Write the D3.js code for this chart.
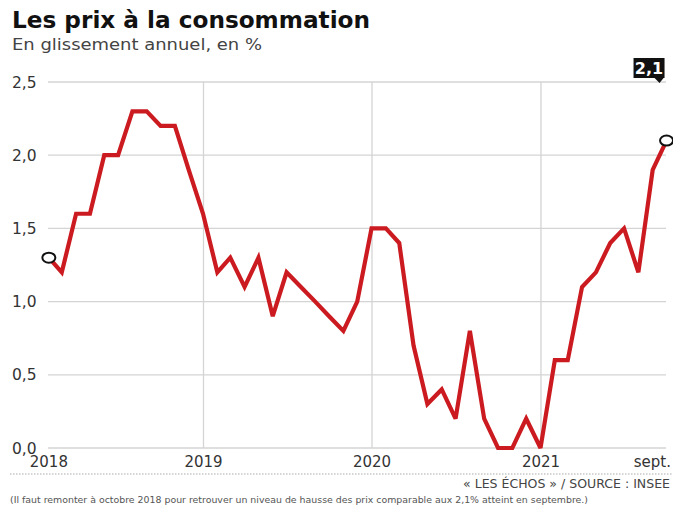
<!DOCTYPE html>
<html lang="fr">
<head>
<meta charset="utf-8">
<script src="https://cdn.jsdelivr.net/npm/d3@7"></script>
<style>
  html, body { margin: 0; padding: 0; background: #fff; }
  svg { display: block; font-family: "DejaVu Sans", "Liberation Sans", sans-serif; }
</style>
</head>
<body>
<svg id="chart" width="673" height="507"></svg>
<script>
// Indice des prix à la consommation, glissement annuel (%), janv. 2018 – sept. 2021
const months2018 = [1.3, 1.2, 1.6, 1.6, 2.0, 2.0, 2.3, 2.3, 2.2, 2.2, 1.9, 1.6];
const months2019 = [1.2, 1.3, 1.1, 1.3, 0.9, 1.2, 1.1, 1.0, 0.9, 0.8, 1.0, 1.5];
const months2020 = [1.5, 1.4, 0.7, 0.3, 0.4, 0.2, 0.8, 0.2, 0.0, 0.0, 0.2, 0.0];
const months2021 = [0.6, 0.6, 1.1, 1.2, 1.4, 1.5, 1.2, 1.9, 2.1];

const yTicks = [0, 0.5, 1.0, 1.5, 2.0, 2.5];
const yearTicks = [2019, 2020, 2021];
const xLabels = ["2018", "2019", "2020", "2021", "sept."];
const lastLabel = "2,1";

const title = "Les prix à la consommation";
const subtitle = "En glissement annuel, en %";
const source = "« LES ÉCHOS » / SOURCE : INSEE";
const footnote = "(Il faut remonter à octobre 2018 pour retrouver un niveau de hausse des prix comparable aux 2,1% atteint en septembre.)";

// each value is dated at the end of its month
const series = [months2018, months2019, months2020, months2021]
  .flatMap((vals, yi) => vals.map((v, m) => ({ date: new Date(2018 + yi, m + 1, 0), value: v })));

const svg = d3.select("#chart");
const fmt = v => d3.format(".1f")(v).replace(".", ",");

const x = d3.scaleTime()
  .domain([new Date(2018, 0, 1), new Date(2021, 9, 1)])
  .range([35, 667]);
const y = d3.scaleLinear().domain([0, 2.5]).range([448, 82]);

const gridLeft = 48, gridRight = 666;
const grid = "#d4d4d4";

// horizontal grid
svg.append("g").selectAll("line").data(yTicks).join("line")
  .attr("x1", gridLeft).attr("x2", gridRight)
  .attr("y1", d => y(d)).attr("y2", d => y(d))
  .attr("stroke", grid).attr("stroke-width", 1.3);

// vertical year grid
svg.append("g").selectAll("line").data(yearTicks).join("line")
  .attr("x1", d => x(new Date(d, 0, 1))).attr("x2", d => x(new Date(d, 0, 1)))
  .attr("y1", y(2.5)).attr("y2", y(0))
  .attr("stroke", grid).attr("stroke-width", 1.3);

// y tick labels
svg.append("g").selectAll("text").data(yTicks).join("text")
  .attr("x", 12).attr("y", d => y(d)).attr("dy", "0.36em")
  .attr("font-size", 15.5).attr("fill", "#333")
  .text(d => fmt(d));

// x labels
const first = series[0], last = series[series.length - 1];
const xPos = [x(first.date), ...yearTicks.map(yr => x(new Date(yr, 0, 1)))];
svg.append("g").selectAll("text").data(xLabels.slice(0, 4)).join("text")
  .attr("x", (d, i) => xPos[i]).attr("y", 467)
  .attr("text-anchor", "middle").attr("font-size", 15).attr("fill", "#333")
  .text(d => d);
svg.append("text")
  .attr("x", 671).attr("y", 467).attr("text-anchor", "end")
  .attr("font-size", 15).attr("fill", "#333")
  .text(xLabels[4]);

// inflation line
const line = d3.line().x(d => x(d.date)).y(d => y(d.value));
svg.append("path").datum(series)
  .attr("d", line)
  .attr("fill", "none").attr("stroke", "#cc1b20")
  .attr("stroke-width", 4.2).attr("stroke-linejoin", "miter").attr("stroke-miterlimit", 3);

// end markers
svg.append("g").selectAll("ellipse").data([first, last]).join("ellipse")
  .attr("cx", d => x(d.date)).attr("cy", d => y(d.value))
  .attr("rx", 6.5).attr("ry", 5)
  .attr("fill", "#fff").attr("stroke", "#111").attr("stroke-width", 2);

// value callout for the latest point
const cx = x(last.date) - 3, boxW = 31, boxH = 20, boxTop = y(2.5) - 24;
const callout = svg.append("g");
callout.append("rect")
  .attr("x", cx - boxW + 1).attr("y", boxTop).attr("width", boxW).attr("height", boxH)
  .attr("fill", "#111");
callout.append("path")
  .attr("d", `M${cx - 9},${boxTop + boxH} L${cx},${boxTop + boxH} L${cx - 4},${boxTop + boxH + 5} Z`)
  .attr("fill", "#111");
callout.append("text")
  .attr("x", cx - boxW / 2 + 1).attr("y", boxTop + boxH / 2).attr("dy", "0.37em")
  .attr("text-anchor", "middle").attr("font-size", 16).attr("font-weight", "bold")
  .attr("fill", "#fff").text(lastLabel);

// titles
svg.append("text").attr("x", 12).attr("y", 28)
  .attr("font-size", 23).attr("font-weight", "bold").attr("fill", "#111")
  .attr("textLength", 358).attr("lengthAdjust", "spacingAndGlyphs")
  .text(title);
svg.append("text").attr("x", 12).attr("y", 50)
  .attr("font-size", 16).attr("fill", "#444")
  .attr("textLength", 250).attr("lengthAdjust", "spacingAndGlyphs")
  .text(subtitle);

// footer
svg.append("line")
  .attr("x1", 10).attr("x2", 673).attr("y1", 474).attr("y2", 474)
  .attr("stroke", "#aaa").attr("stroke-width", 1).attr("stroke-dasharray", "1.5,1.5");
svg.append("text").attr("x", 670).attr("y", 488).attr("text-anchor", "end")
  .attr("font-size", 12.5).attr("fill", "#444")
  .attr("textLength", 207).attr("lengthAdjust", "spacingAndGlyphs")
  .text(source);
svg.append("text").attr("x", 10).attr("y", 503)
  .attr("font-size", 8.5).attr("fill", "#555")
  .attr("textLength", 578).attr("lengthAdjust", "spacingAndGlyphs")
  .text(footnote);
</script>
</body>
</html>
